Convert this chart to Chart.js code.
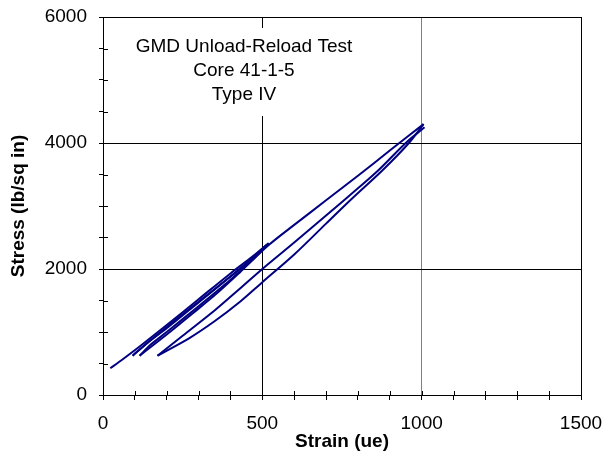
<!DOCTYPE html>
<html>
<head>
<meta charset="utf-8">
<script src="https://cdn.jsdelivr.net/npm/chart.js@4/dist/chart.umd.min.js"></script>
<style>
  html, body { margin: 0; padding: 0; background: #fff; }
  canvas { display: block; }
</style>
</head>
<body>
<canvas id="chart" width="604" height="455"></canvas>
<script>
// Unload-reload cycles, strain (ue) vs stress (lb/sq in)
const load1Strain = [23, 60, 120, 200, 300, 400, 470, 520];
const load1Stress = [424, 560, 790, 1110, 1520, 1930, 2200, 2410];

const unload1Strain = [520, 480, 400, 300, 200, 140, 93];
const unload1Stress = [2410, 2220, 1880, 1470, 1060, 830, 624];

const reload1Strain = [93, 140, 200, 300, 400, 470, 515];
const reload1Stress = [624, 830, 1080, 1480, 1880, 2170, 2390];

const unload2Strain = [515, 470, 400, 300, 200, 150, 115];
const unload2Stress = [2390, 2150, 1830, 1410, 1000, 800, 624];

const reload2Strain = [115, 200, 280, 352, 430, 520, 600, 700, 800, 900, 1006];
const reload2Stress = [624, 960, 1290, 1590, 1950, 2380, 2700, 3090, 3480, 3880, 4300];

const unload3Strain = [1006, 960, 878, 780, 700, 600, 500, 430, 350, 270, 171];
const unload3Stress = [4300, 4000, 3571, 3110, 2720, 2230, 1790, 1480, 1170, 900, 624];

const reload3Strain = [171, 250, 352, 430, 500, 600, 700, 800, 865, 950, 1009];
const reload3Stress = [624, 940, 1349, 1690, 2000, 2420, 2850, 3280, 3571, 4000, 4250];

const xLabels = [0, 500, 1000, 1500];
const yLabels = [0, 2000, 4000, 6000];
const noteLines = ['GMD Unload-Reload Test', 'Core 41-1-5', 'Type IV'];

const FONT = '"Liberation Sans", Arial, Helvetica, sans-serif';
const LINE_COLOR = '#000080';

const segments = [
    [load1Strain, load1Stress],
    [unload1Strain, unload1Stress],
    [reload1Strain, reload1Stress],
    [unload2Strain, unload2Stress],
    [reload2Strain, reload2Stress],
    [unload3Strain, unload3Stress],
    [reload3Strain, reload3Stress]
];

const datasets = segments.map(([xs, ys]) => ({
    data: xs.map((x, i) => ({ x: x, y: ys[i] })),
    showLine: true,
    borderColor: LINE_COLOR,
    borderWidth: 2,
    pointRadius: 0,
    fill: false,
    tension: 0.3
}));

// no extra room for label overflow, the layout padding sets the plot box
function noOverflow(scale) {
    scale.paddingTop = 0;
    scale.paddingBottom = 0;
    scale.paddingLeft = 0;
    scale.paddingRight = 0;
}

// inner half of the tick marks and the note box
const extrasPlugin = {
    id: 'extras',
    afterDraw(chart) {
        const { ctx, chartArea, scales } = chart;
        ctx.save();
        ctx.strokeStyle = '#000';
        ctx.lineWidth = 1;
        ctx.beginPath();
        scales.x.ticks.forEach(t => {
            const px = Math.round(scales.x.getPixelForValue(t.value)) + 0.5;
            ctx.moveTo(px, chartArea.bottom);
            ctx.lineTo(px, chartArea.bottom - 4);
        });
        scales.y.ticks.forEach(t => {
            const py = Math.round(scales.y.getPixelForValue(t.value)) + 0.5;
            ctx.moveTo(chartArea.left, py);
            ctx.lineTo(chartArea.left + 5, py);
        });
        ctx.stroke();

        ctx.fillStyle = '#fff';
        ctx.fillRect(130, 28, 235, 88);
        ctx.fillStyle = '#000';
        ctx.font = '19px ' + FONT;
        ctx.textAlign = 'center';
        ctx.textBaseline = 'middle';
        noteLines.forEach((line, i) => {
            ctx.fillText(line, 244, 47 + i * 24);
        });
        ctx.restore();
    }
};

new Chart(document.getElementById('chart').getContext('2d'), {
    type: 'scatter',
    data: { datasets: datasets },
    options: {
        responsive: false,
        animation: false,
        devicePixelRatio: 1,
        layout: { padding: { top: 17, right: 23, left: 0, bottom: 0 } },
        plugins: {
            legend: { display: false },
            tooltip: { enabled: false }
        },
        scales: {
            x: {
                type: 'linear',
                min: 0,
                max: 1500,
                afterFit: scale => { scale.height = 60; noOverflow(scale); },
                ticks: {
                    stepSize: 100,
                    autoSkip: false,
                    maxRotation: 0,
                    padding: 12,
                    color: '#000',
                    font: { family: FONT, size: 19 },
                    callback: v => xLabels.includes(v) ? v : ''
                },
                grid: {
                    color: c => {
                        const v = c.tick ? c.tick.value : null;
                        if (v === 500 || v === 1500) return '#000';
                        if (v === 1000) return '#808080';
                        return 'rgba(0,0,0,0)';
                    },
                    tickColor: '#000',
                    tickLength: 5,
                    lineWidth: 1
                },
                border: { display: true, color: '#000', width: 1 },
                title: {
                    display: true,
                    text: 'Strain (ue)',
                    color: '#000',
                    font: { family: FONT, size: 19, weight: 'bold' },
                    padding: { top: 0, bottom: 2 }
                }
            },
            y: {
                min: 0,
                max: 6000,
                afterFit: scale => { scale.width = 103; noOverflow(scale); },
                ticks: {
                    stepSize: 500,
                    autoSkip: false,
                    padding: 12,
                    color: '#000',
                    font: { family: FONT, size: 19 },
                    callback: v => yLabels.includes(v) ? v : ''
                },
                grid: {
                    color: c => {
                        const v = c.tick ? c.tick.value : null;
                        return (v === 2000 || v === 4000 || v === 6000) ? '#000' : 'rgba(0,0,0,0)';
                    },
                    tickColor: '#000',
                    tickLength: 4,
                    lineWidth: 1
                },
                border: { display: true, color: '#000', width: 1 },
                title: {
                    display: true,
                    text: 'Stress (lb/sq in)',
                    color: '#000',
                    font: { family: FONT, size: 19, weight: 'bold' },
                    padding: { top: 7, bottom: 0 }
                }
            }
        }
    },
    plugins: [extrasPlugin]
});
</script>
</body>
</html>
